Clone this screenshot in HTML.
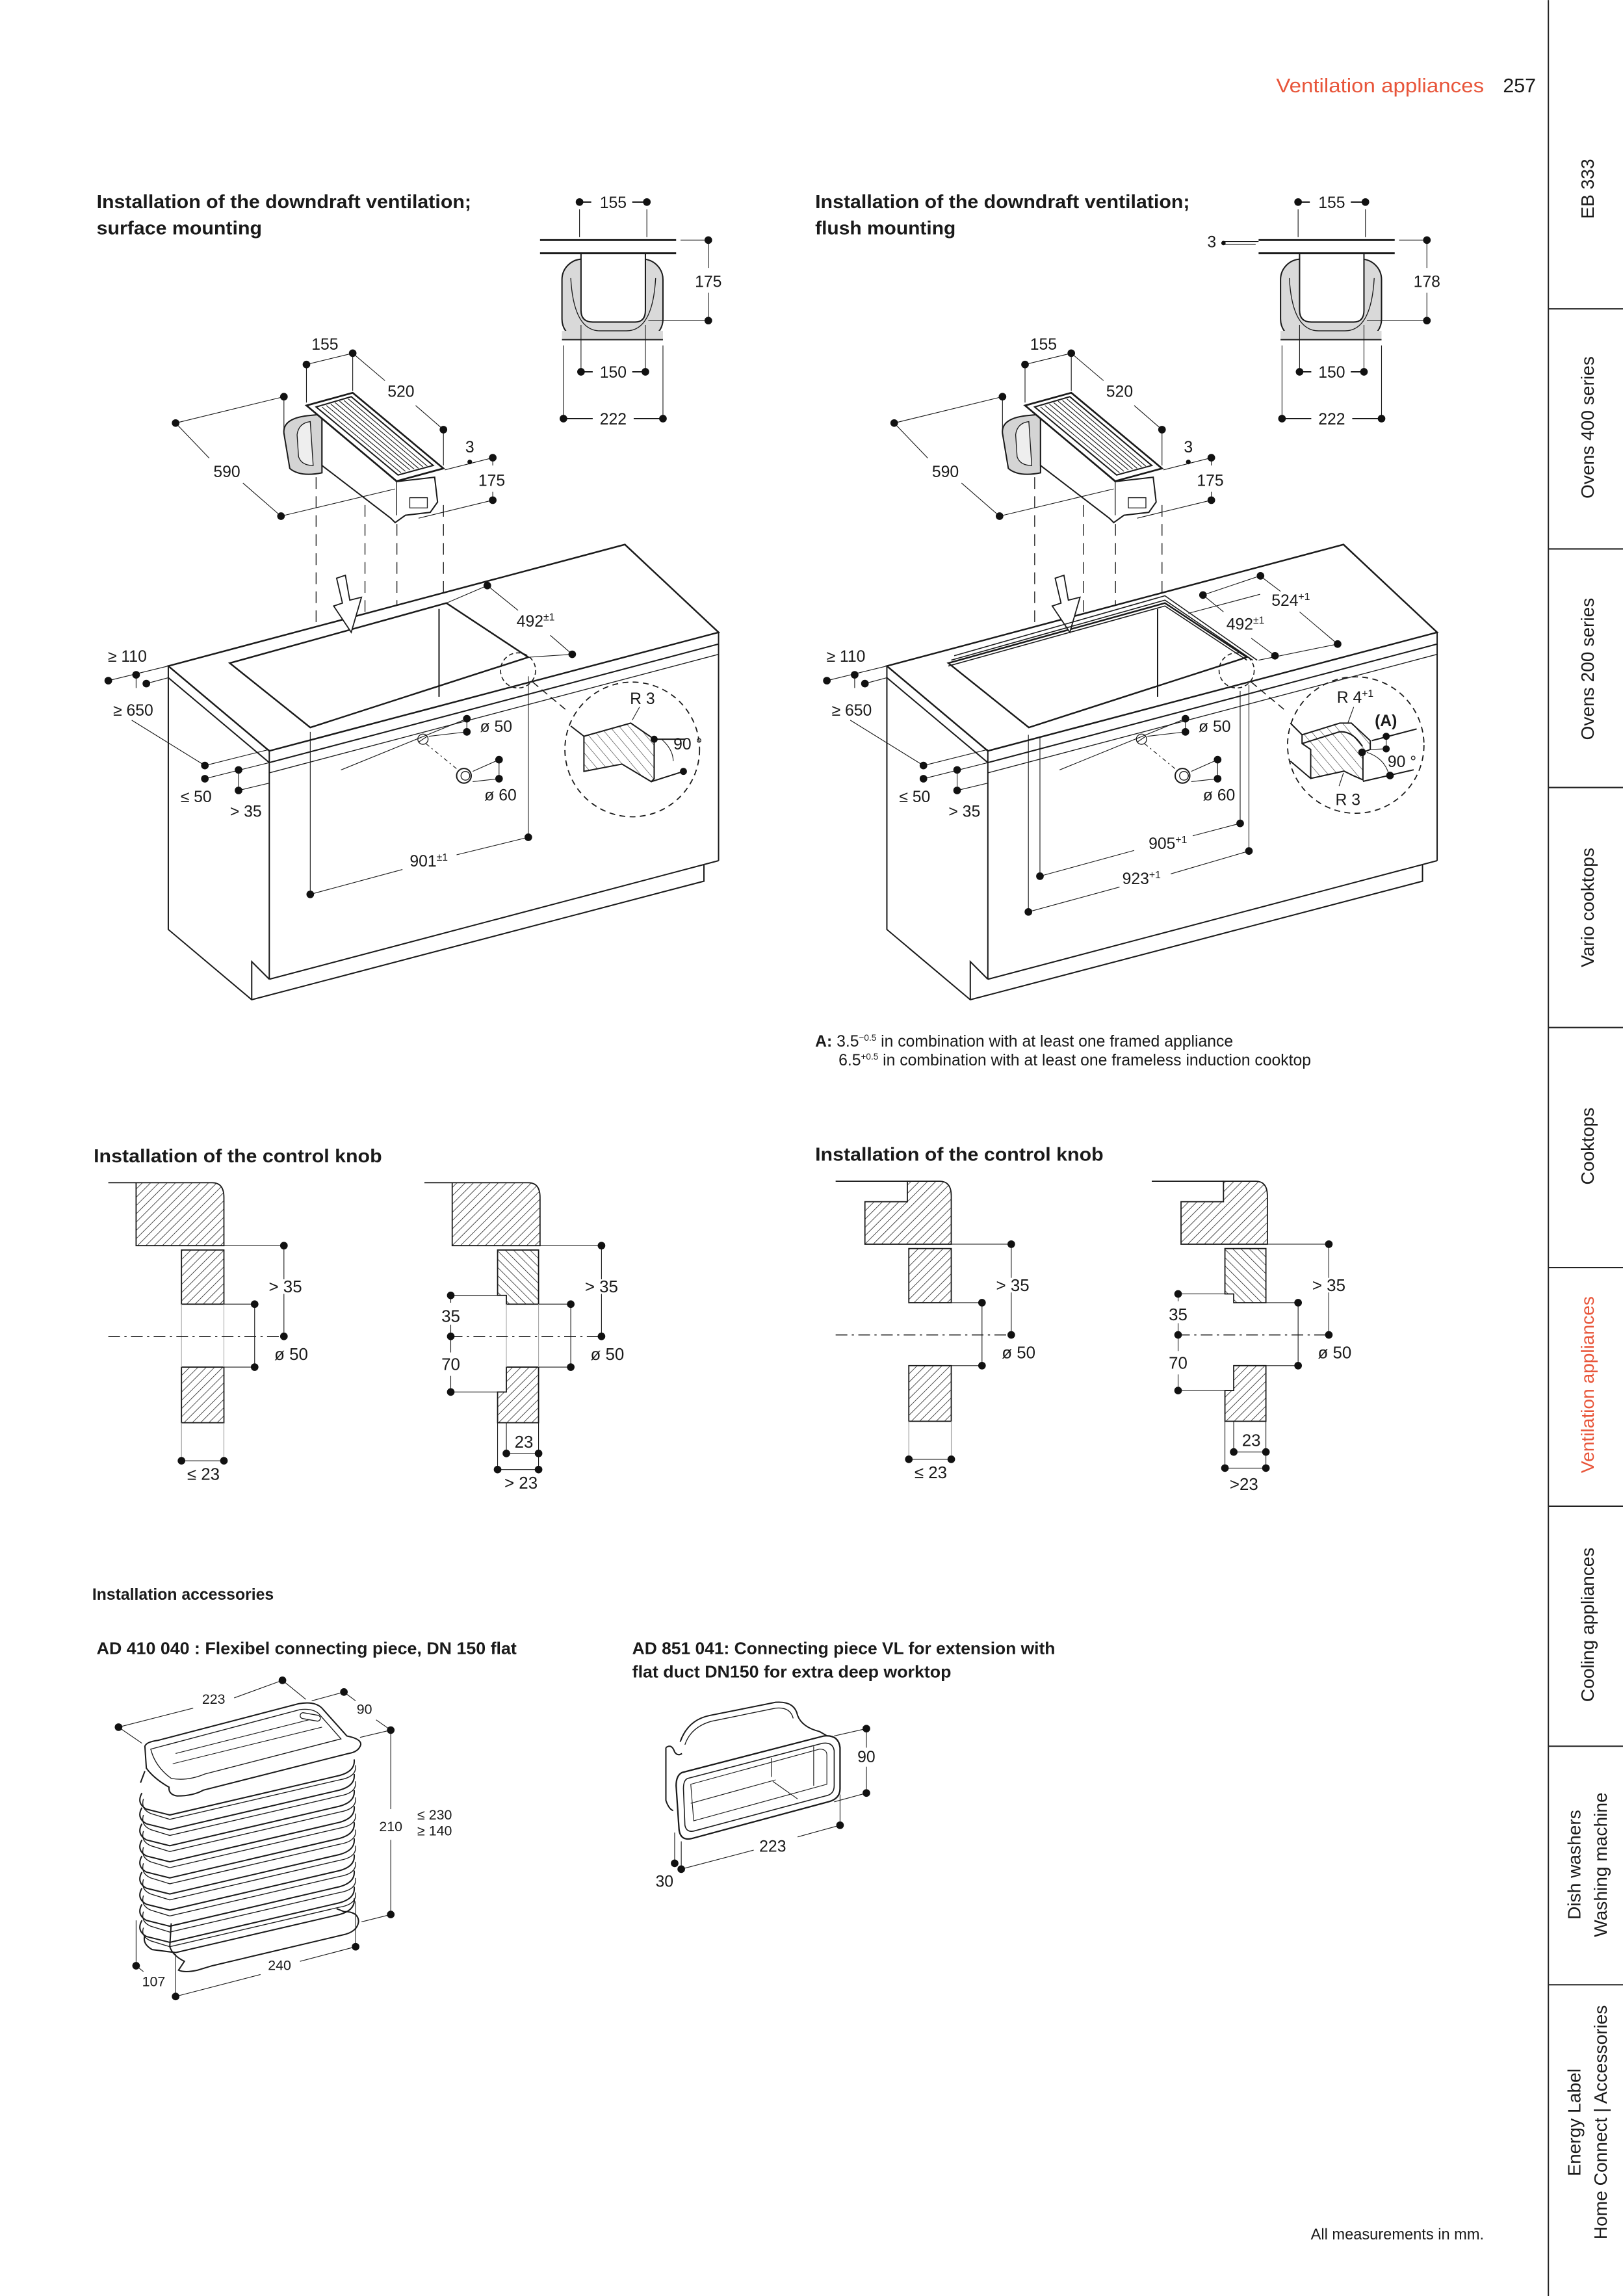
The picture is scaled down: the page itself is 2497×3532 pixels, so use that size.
<!DOCTYPE html>
<html><head><meta charset="utf-8"><style>
html,body{margin:0;padding:0;background:#fff}
svg{display:block}
text{font-family:"Liberation Sans",Arial,sans-serif;fill:#1a1a1a}
.t{font-size:12.6px;font-weight:bold}
.d{font-size:11px}
.sb{font-size:12.5px}
</style></head><body>
<svg width="2497" height="3532" viewBox="0 0 1109 1568.6" xmlns="http://www.w3.org/2000/svg">
<defs>
<pattern id="h" patternUnits="userSpaceOnUse" width="4" height="4" patternTransform="rotate(45)"><line x1="0" y1="0" x2="0" y2="4" stroke="#222" stroke-width="0.7"/></pattern>
<pattern id="h2" patternUnits="userSpaceOnUse" width="4" height="4" patternTransform="rotate(-45)"><line x1="0" y1="0" x2="0" y2="4" stroke="#222" stroke-width="0.7"/></pattern>
<pattern id="h3" patternUnits="userSpaceOnUse" width="5" height="5" patternTransform="rotate(-40)"><line x1="0" y1="0" x2="0" y2="5" stroke="#222" stroke-width="0.5"/></pattern>
<g id="cab" fill="none" stroke="#1a1a1a" stroke-width="0.9">
 <rect x="384" y="177" width="69" height="55" rx="14" fill="#d9d9d9"/>
 <rect x="384" y="226" width="69" height="6" fill="#d9d9d9" stroke="none"/>
 <line x1="384" y1="232" x2="453" y2="232"/>
 <path d="M397,173 V212 Q397,220 405,220 H434 Q441,220 441,212 V173" fill="#fff"/>
 <path d="M390,190 Q392,226 410,226 H428 Q446,226 448,190" stroke-width="0.6"/>
 <line x1="369" y1="164" x2="462" y2="164" stroke-width="1.3"/>
 <line x1="369" y1="173" x2="462" y2="173" stroke-width="1.3"/>
 <line x1="396" y1="143" x2="396" y2="162" stroke-width="0.5"/><line x1="442" y1="143" x2="442" y2="162" stroke-width="0.5"/>
 <line x1="396" y1="138" x2="404" y2="138"/><line x1="432" y1="138" x2="442" y2="138"/>
 <line x1="465" y1="164" x2="484" y2="164" stroke-width="0.5"/><line x1="443" y1="219" x2="484" y2="219" stroke-width="0.5"/>
 <line x1="484" y1="164" x2="484" y2="183" stroke-width="0.5"/><line x1="484" y1="200" x2="484" y2="219" stroke-width="0.5"/>
 <line x1="397" y1="222" x2="397" y2="254" stroke-width="0.5"/><line x1="441" y1="222" x2="441" y2="254" stroke-width="0.5"/>
 <line x1="385" y1="236" x2="385" y2="286" stroke-width="0.5"/><line x1="453" y1="236" x2="453" y2="286" stroke-width="0.5"/>
 <line x1="397" y1="254" x2="405" y2="254"/><line x1="432" y1="254" x2="441" y2="254"/>
 <line x1="385" y1="286" x2="405" y2="286"/><line x1="433" y1="286" x2="453" y2="286"/>
 <path d="M194,296 Q193,286 210,284 L220,283 L220,323 Q205,326 198,320 Z" fill="#d4d4d4"/>
 <path d="M203,297 Q204,289 212,288 L214,318 Q206,318 204,312 Z" fill="#eee" stroke-width="0.6"/>
 <path d="M210,277 L271,329 L297,326 L299,343 L294,350 L277,352 L270,357 L267,354 L220,318 L220,285 Z" fill="#fff"/>
 <polygon points="209.4,277 241,268.3 303,320 271,328.7" fill="#fff" stroke-width="1.2"/>
 <polygon points="216,278 240,271 296,318 272,324.5" fill="#fff"/>
 <g stroke-width="0.5"><line x1="220" y1="278" x2="274" y2="323"/><line x1="223" y1="277" x2="277" y2="322"/><line x1="226" y1="276" x2="280" y2="321"/><line x1="229" y1="275" x2="283" y2="320.5"/><line x1="232" y1="274" x2="286" y2="320"/><line x1="235" y1="273.5" x2="289" y2="319"/><line x1="238" y1="272.5" x2="292" y2="318.5"/></g>
 <line x1="271" y1="329" x2="271" y2="352" stroke-width="0.6"/>
 <rect x="280" y="340" width="12" height="7" stroke-width="0.6"/>
 <g stroke-width="0.5">
 <line x1="209.4" y1="249" x2="241" y2="241.3"/><line x1="209.4" y1="249" x2="209.4" y2="275"/><line x1="241" y1="241.3" x2="241" y2="267"/>
 <line x1="241" y1="241.3" x2="263" y2="260"/><line x1="284" y1="277" x2="303" y2="293.5"/><line x1="303" y1="293.5" x2="303" y2="318"/>
 <line x1="120" y1="289" x2="194" y2="271"/><line x1="194" y1="271" x2="194" y2="296"/><line x1="120" y1="289" x2="143" y2="313"/><line x1="166" y1="330" x2="192" y2="352.6"/>
 <line x1="192" y1="352.6" x2="270" y2="334"/>
 <line x1="304" y1="321" x2="336.7" y2="312.7"/><line x1="336.7" y1="312.7" x2="336.7" y2="318"/><line x1="336.7" y1="336" x2="336.7" y2="341.7"/><line x1="286" y1="354" x2="336.7" y2="341.7"/>
 </g>
 <g stroke-dasharray="8,5" stroke-width="0.6"><line x1="216" y1="326" x2="216" y2="445"/><line x1="249.4" y1="345" x2="249.4" y2="435"/><line x1="271.2" y1="358" x2="271.2" y2="480"/><line x1="303" y1="345" x2="303" y2="472"/>
 <line x1="222" y1="455" x2="262" y2="492"/><line x1="253" y1="432" x2="300" y2="472"/></g>
 <polygon points="115,455 427,372 491,432 184,513" fill="#fff" stroke-width="1.1"/>
 <polyline points="115,455 115,463 184,521 491,440 491,432"/>
 <line x1="184" y1="513" x2="184" y2="521"/>
 <polyline points="115,463 115,635 172,683 481,602 481,591"/>
 <line x1="184" y1="521" x2="184" y2="669"/><line x1="184" y1="669" x2="491" y2="588"/><line x1="491" y1="440" x2="491" y2="588"/>
 <polyline points="172,683 172,657 184,669"/>
 <line x1="184" y1="528" x2="491" y2="447" stroke-width="0.6"/>
 <polygon points="157,453 305,412 361,449 212,497" fill="#fff" stroke-width="1.1"/>
 <line x1="300" y1="416" x2="300" y2="476"/>
 <path d="M230,395 L236,393 L239,410 L247,408 L240,432 L228,414 L234,412 Z" fill="#fff" stroke-width="0.8"/>
 <circle cx="289" cy="505" r="3.5" stroke-width="0.6"/><line x1="286" y1="507" x2="292" y2="503" stroke-width="0.5"/>
 <circle cx="317" cy="530" r="5" stroke-width="0.9"/><circle cx="318" cy="530" r="3" stroke-width="0.6"/>
 <line x1="291" y1="508" x2="313" y2="526" stroke-dasharray="3,2,1,2" stroke-width="0.5"/>
 <g stroke-width="0.5"><line x1="233" y1="526" x2="319" y2="491"/><line x1="293" y1="503" x2="319" y2="500"/><line x1="319" y1="491" x2="319" y2="500"/>
 <line x1="323" y1="527" x2="341" y2="519"/><line x1="323" y1="534" x2="341" y2="532"/><line x1="341" y1="519" x2="341" y2="532"/>
 <line x1="74" y1="465" x2="115" y2="455"/><line x1="93" y1="461" x2="93" y2="470"/><line x1="100" y1="467" x2="115" y2="463"/>
 <line x1="90" y1="492" x2="140" y2="523"/><line x1="140" y1="523" x2="184" y2="512"/><line x1="140" y1="532" x2="184" y2="521"/>
 <line x1="163" y1="526" x2="163" y2="540"/><line x1="163" y1="540" x2="184" y2="535"/>
 </g>
 <circle cx="354" cy="458" r="12" stroke-dasharray="3,2" stroke-width="0.7"/>
 <line x1="364" y1="466" x2="388" y2="486" stroke-dasharray="5,3" stroke-width="0.7"/>
</g>
</defs>

<line x1="1058" y1="0" x2="1058" y2="1569" stroke="#222" stroke-width="0.9"/>
<g stroke="#222" stroke-width="0.9"><line x1="1058" y1="211" x2="1109" y2="211"/><line x1="1058" y1="375" x2="1109" y2="375"/><line x1="1058" y1="538" x2="1109" y2="538"/><line x1="1058" y1="702" x2="1109" y2="702"/><line x1="1058" y1="866" x2="1109" y2="866"/><line x1="1058" y1="1029" x2="1109" y2="1029"/><line x1="1058" y1="1193" x2="1109" y2="1193"/><line x1="1058" y1="1356" x2="1109" y2="1356"/></g>
<g class="sb" text-anchor="middle">
<text transform="translate(1089,129) rotate(-90)">EB 333</text>
<text transform="translate(1089,292) rotate(-90)">Ovens 400 series</text>
<text transform="translate(1089,457) rotate(-90)">Ovens 200 series</text>
<text transform="translate(1089,620) rotate(-90)">Vario cooktops</text>
<text transform="translate(1089,783) rotate(-90)">Cooktops</text>
<text transform="translate(1089,946) rotate(-90)" style="fill:#e8553a">Ventilation appliances</text>
<text transform="translate(1089,1110) rotate(-90)">Cooling appliances</text>
<text transform="translate(1080,1274) rotate(-90)">Dish washers</text>
<text transform="translate(1098,1274) rotate(-90)">Washing machine</text>
<text transform="translate(1080,1450) rotate(-90)">Energy Label</text>
<text transform="translate(1098,1450) rotate(-90)">Home Connect | Accessories</text>
</g>

<text x="872" y="63" textLength="142" lengthAdjust="spacingAndGlyphs" style="font-size:13.5px;fill:#e8553a">Ventilation appliances</text>
<text x="1027" y="63" style="font-size:13.5px">257</text>

<text class="t" x="66" y="142" textLength="256" lengthAdjust="spacingAndGlyphs">Installation of the downdraft ventilation;</text>
<text class="t" x="66" y="160" textLength="113" lengthAdjust="spacingAndGlyphs">surface mounting</text>
<text class="t" x="557" y="142" textLength="256" lengthAdjust="spacingAndGlyphs">Installation of the downdraft ventilation;</text>
<text class="t" x="557" y="160" textLength="96" lengthAdjust="spacingAndGlyphs">flush mounting</text>

<use href="#cab"/>
<use href="#cab" transform="translate(491,0)"/>

<g fill="#111">
<circle cx="396" cy="138" r="2.6"/><circle cx="442" cy="138" r="2.6"/><circle cx="484" cy="164" r="2.6"/><circle cx="484" cy="219" r="2.6"/>
<circle cx="397" cy="254" r="2.6"/><circle cx="441" cy="254" r="2.6"/><circle cx="385" cy="286" r="2.6"/><circle cx="453" cy="286" r="2.6"/>
<circle cx="209.4" cy="249" r="2.6"/><circle cx="241" cy="241.3" r="2.6"/><circle cx="303" cy="293.5" r="2.6"/><circle cx="120" cy="289" r="2.6"/><circle cx="194" cy="271" r="2.6"/><circle cx="192" cy="352.6" r="2.6"/>
<circle cx="321" cy="315.6" r="1.6"/><circle cx="336.7" cy="312.7" r="2.6"/><circle cx="336.7" cy="341.7" r="2.6"/>
<circle cx="74" cy="465" r="2.6"/><circle cx="93" cy="461" r="2.6"/><circle cx="100" cy="467" r="2.6"/><circle cx="140" cy="523" r="2.6"/><circle cx="140" cy="532" r="2.6"/><circle cx="163" cy="526" r="2.6"/><circle cx="163" cy="540" r="2.6"/>
<circle cx="319" cy="491" r="2.6"/><circle cx="319" cy="500" r="2.6"/><circle cx="341" cy="519" r="2.6"/><circle cx="341" cy="532" r="2.6"/>
</g>
<g fill="#111" transform="translate(491,0)">
<circle cx="396" cy="138" r="2.6"/><circle cx="442" cy="138" r="2.6"/><circle cx="484" cy="164" r="2.6"/><circle cx="484" cy="219" r="2.6"/>
<circle cx="397" cy="254" r="2.6"/><circle cx="441" cy="254" r="2.6"/><circle cx="385" cy="286" r="2.6"/><circle cx="453" cy="286" r="2.6"/>
<circle cx="209.4" cy="249" r="2.6"/><circle cx="241" cy="241.3" r="2.6"/><circle cx="303" cy="293.5" r="2.6"/><circle cx="120" cy="289" r="2.6"/><circle cx="194" cy="271" r="2.6"/><circle cx="192" cy="352.6" r="2.6"/>
<circle cx="321" cy="315.6" r="1.6"/><circle cx="336.7" cy="312.7" r="2.6"/><circle cx="336.7" cy="341.7" r="2.6"/>
<circle cx="74" cy="465" r="2.6"/><circle cx="93" cy="461" r="2.6"/><circle cx="100" cy="467" r="2.6"/><circle cx="140" cy="523" r="2.6"/><circle cx="140" cy="532" r="2.6"/><circle cx="163" cy="526" r="2.6"/><circle cx="163" cy="540" r="2.6"/>
<circle cx="319" cy="491" r="2.6"/><circle cx="319" cy="500" r="2.6"/><circle cx="341" cy="519" r="2.6"/><circle cx="341" cy="532" r="2.6"/>
</g>

<g fill="none" stroke="#1a1a1a" stroke-width="0.5">
<line x1="333" y1="400" x2="354" y2="417"/><line x1="376" y1="434" x2="391" y2="447"/><line x1="305" y1="412" x2="333" y2="400"/><line x1="361" y1="449" x2="391" y2="447"/>
<line x1="212" y1="500" x2="212" y2="611"/><line x1="361" y1="462" x2="361" y2="572"/><line x1="212" y1="611" x2="275" y2="594"/><line x1="312" y1="584" x2="361" y2="572"/>
<circle cx="432" cy="512" r="46" stroke-dasharray="4,3" stroke-width="0.8"/>
<polygon points="399,503 431,494 447,505 447,532 445,534 425,522 399,527" fill="url(#h3)" stroke-width="0.9"/>
<polyline points="390,496 399,503" stroke-width="0.9"/><line x1="447" y1="505" x2="468" y2="505" stroke-width="0.9"/><line x1="445" y1="534" x2="467" y2="527" stroke-width="0.9"/>
<line x1="432" y1="492" x2="437" y2="483"/><path d="M452,505 Q460,512 460,520"/>
</g>
<g fill="#111"><circle cx="333" cy="400" r="2.6"/><circle cx="391" cy="447" r="2.6"/><circle cx="212" cy="611" r="2.6"/><circle cx="361" cy="572" r="2.6"/><circle cx="447" cy="505" r="2.4"/><circle cx="467" cy="527" r="2.4"/></g>

<g fill="none" stroke="#1a1a1a" stroke-width="0.7">
<polyline points="648,455 796,414 852,451"/><polyline points="650,451 796,410 856,451"/><polyline points="652,448 796,407 859,451"/>
<line x1="812" y1="419" x2="861" y2="406" stroke-width="0.5"/><line x1="861" y1="393.4" x2="822" y2="406.5" stroke-width="0.5"/>
<line x1="861" y1="393.4" x2="875" y2="404" stroke-width="0.5"/><line x1="888" y1="418" x2="914" y2="440" stroke-width="0.5"/>
<line x1="822" y1="406.5" x2="836" y2="418" stroke-width="0.5"/><line x1="855" y1="436" x2="871.2" y2="448" stroke-width="0.5"/>
<line x1="860" y1="451" x2="914" y2="440" stroke-width="0.5"/>
<line x1="847.4" y1="472" x2="847.4" y2="562.5" stroke-width="0.5"/><line x1="853.4" y1="468" x2="853.4" y2="581.4" stroke-width="0.5"/>
<line x1="710.6" y1="503" x2="710.6" y2="598.6" stroke-width="0.5"/><line x1="702.7" y1="502" x2="702.7" y2="623" stroke-width="0.5"/>
<line x1="710.6" y1="598.6" x2="775" y2="581" stroke-width="0.5"/><line x1="815" y1="571" x2="847.4" y2="562.5" stroke-width="0.5"/>
<line x1="702.7" y1="623" x2="765" y2="606" stroke-width="0.5"/><line x1="800" y1="597" x2="853.4" y2="581.4" stroke-width="0.5"/>
<circle cx="926.4" cy="509" r="46.6" stroke-dasharray="4,3" stroke-width="0.8"/>
<polygon points="889.7,502 915.5,494 923.4,494 936.3,506 936.3,512 931.3,514 931.3,532.8 924.4,529.8 918.4,526.8 895.6,531.8 895.6,512 889.7,508" fill="url(#h3)" stroke-width="0.9"/>
<path d="M889.7,508 L915,500 Q924,499 931,510" stroke-width="0.9"/>
<line x1="881.7" y1="494" x2="889.7" y2="502" stroke-width="0.9"/><line x1="881.7" y1="520" x2="895.6" y2="531.8" stroke-width="0.9"/>
<line x1="937.3" y1="506" x2="968" y2="498" stroke-width="0.9"/><line x1="931.3" y1="533.8" x2="966" y2="525.9" stroke-width="0.9"/>
<line x1="947.2" y1="503" x2="947.2" y2="511.6" stroke-width="0.5"/><line x1="936" y1="512" x2="947.2" y2="511.6" stroke-width="0.5"/>
<line x1="921" y1="494" x2="925" y2="483" stroke-width="0.5"/><line x1="918" y1="528" x2="915" y2="537" stroke-width="0.5"/><path d="M934,514 Q946,518 949,529" stroke-width="0.5"/>
<line x1="836" y1="165" x2="860" y2="165" stroke-width="0.5"/><line x1="836" y1="167" x2="858" y2="167" stroke-width="0.5"/>
</g>
<g fill="#111"><circle cx="861.3" cy="393.4" r="2.6"/><circle cx="914" cy="440" r="2.6"/><circle cx="822" cy="406.5" r="2.6"/><circle cx="871.2" cy="448" r="2.6"/>
<circle cx="847.4" cy="562.5" r="2.6"/><circle cx="710.6" cy="598.6" r="2.6"/><circle cx="853.4" cy="581.4" r="2.6"/><circle cx="702.7" cy="623" r="2.6"/>
<circle cx="947.2" cy="503" r="2.4"/><circle cx="947.2" cy="511.6" r="2.4"/><circle cx="930.7" cy="514" r="2.6"/><circle cx="949.8" cy="529.8" r="2.6"/><circle cx="836" cy="166" r="1.5"/></g>

<g class="d" text-anchor="middle">
<text x="419" y="142">155</text><text x="484" y="196">175</text><text x="419" y="258">150</text><text x="419" y="290">222</text>
<text x="222" y="239">155</text><text x="274" y="271">520</text><text x="155" y="326">590</text><text x="321" y="309">3</text><text x="336" y="332">175</text>
<text x="87" y="452">≥ 110</text><text x="91" y="489">≥ 650</text><text x="134" y="548">≤ 50</text><text x="168" y="558">&gt; 35</text>
<text x="366" y="428">492<tspan dy="-4" style="font-size:7px">±1</tspan></text>
<text x="339" y="500">ø 50</text><text x="342" y="547">ø 60</text>
<text x="293" y="592">901<tspan dy="-4" style="font-size:7px">±1</tspan></text>
<text x="439" y="481">R 3</text><text x="470" y="512">90 °</text>
<text x="910" y="142">155</text><text x="975" y="196">178</text><text x="910" y="258">150</text><text x="910" y="290">222</text><text x="828" y="169">3</text>
<text x="713" y="239">155</text><text x="765" y="271">520</text><text x="646" y="326">590</text><text x="812" y="309">3</text><text x="827" y="332">175</text>
<text x="578" y="452">≥ 110</text><text x="582" y="489">≥ 650</text><text x="625" y="548">≤ 50</text><text x="659" y="558">&gt; 35</text>
<text x="882" y="414">524<tspan dy="-4" style="font-size:7px">+1</tspan></text>
<text x="851" y="430">492<tspan dy="-4" style="font-size:7px">±1</tspan></text>
<text x="830" y="500">ø 50</text><text x="833" y="547">ø 60</text>
<text x="798" y="580">905<tspan dy="-4" style="font-size:7px">+1</tspan></text>
<text x="780" y="604">923<tspan dy="-4" style="font-size:7px">+1</tspan></text>
<text x="926" y="480">R 4<tspan dy="-4" style="font-size:7px">+1</tspan></text>
<text x="947" y="496" style="font-weight:bold">(A)</text><text x="958" y="524">90 °</text><text x="921" y="550">R 3</text>
</g>
<text x="557" y="715" class="d"><tspan style="font-weight:bold">A:</tspan>  3.5<tspan dy="-4" style="font-size:6px">−0.5</tspan><tspan dy="4"> in combination with at least one framed appliance</tspan></text>
<text x="573" y="728" class="d">6.5<tspan dy="-4" style="font-size:6px">+0.5</tspan><tspan dy="4"> in combination with at least one frameless induction cooktop</tspan></text>

<text class="t" x="64" y="794" textLength="197" lengthAdjust="spacingAndGlyphs">Installation of the control knob</text>
<text class="t" x="557" y="793" textLength="197" lengthAdjust="spacingAndGlyphs">Installation of the control knob</text>
<g>
<g fill="none" stroke="#1a1a1a" stroke-width="0.8">
<line x1="74" y1="808" x2="93" y2="808"/>
<path d="M93,808 H145 Q153,808 153,818 V851 H93 Z" fill="url(#h)"/>
<rect x="124" y="854" width="29" height="37" fill="url(#h)"/>
<rect x="124" y="934" width="29" height="38" fill="url(#h)"/>
<g stroke-width="0.5"><line x1="153" y1="851" x2="194" y2="851"/><line x1="194" y1="851" x2="194" y2="874"/><line x1="194" y1="884" x2="194" y2="913"/>
<line x1="153" y1="891" x2="174" y2="891"/><line x1="153" y1="934" x2="174" y2="934"/><line x1="174" y1="891" x2="174" y2="934"/>
<line x1="124" y1="891" x2="124" y2="934" stroke="#aaa"/><line x1="153" y1="891" x2="153" y2="934" stroke="#aaa"/>
<line x1="124" y1="972" x2="124" y2="998" stroke="#999"/><line x1="153" y1="972" x2="153" y2="998" stroke="#999"/><line x1="124" y1="998" x2="153" y2="998"/></g>
<line x1="74" y1="913" x2="194" y2="913" stroke-dasharray="8,3,1.5,3" stroke-width="0.7"/>
</g>
<g fill="#111"><circle cx="194" cy="851" r="2.6"/><circle cx="194" cy="913" r="2.6"/><circle cx="174" cy="891" r="2.6"/><circle cx="174" cy="934" r="2.6"/><circle cx="124" cy="998" r="2.6"/><circle cx="153" cy="998" r="2.6"/></g>
</g>
<g>
<g fill="none" stroke="#1a1a1a" stroke-width="0.8">
<line x1="290" y1="808" x2="309" y2="808"/>
<path d="M309,808 H361 Q369,808 369,818 V851 H309 Z" fill="url(#h)"/>
<path d="M340,854 H368 V891 H346 V885 H340 Z" fill="url(#h2)"/>
<path d="M346,934 H368 V972 H340 V951 H346 Z" fill="url(#h)"/>
<g stroke-width="0.5"><line x1="369" y1="851" x2="411" y2="851"/><line x1="411" y1="851" x2="411" y2="874"/><line x1="411" y1="884" x2="411" y2="913"/>
<line x1="368" y1="891" x2="390" y2="891"/><line x1="368" y1="934" x2="390" y2="934"/><line x1="390" y1="891" x2="390" y2="934"/>
<line x1="308" y1="885" x2="340" y2="885"/><line x1="308" y1="951" x2="340" y2="951"/><line x1="308" y1="885" x2="308" y2="890"/><line x1="308" y1="905" x2="308" y2="924"/><line x1="308" y1="940" x2="308" y2="951"/>
<line x1="346" y1="891" x2="346" y2="934" stroke="#aaa"/><line x1="368" y1="891" x2="368" y2="934" stroke="#aaa"/>
<line x1="346" y1="972" x2="346" y2="993"/><line x1="340" y1="972" x2="340" y2="1004"/><line x1="368" y1="972" x2="368" y2="1004"/><line x1="346" y1="993" x2="368" y2="993"/><line x1="340" y1="1004" x2="368" y2="1004"/></g>
<line x1="308" y1="913" x2="411" y2="913" stroke-dasharray="8,3,1.5,3" stroke-width="0.7"/>
</g>
<g fill="#111"><circle cx="411" cy="851" r="2.6"/><circle cx="411" cy="913" r="2.6"/><circle cx="390" cy="891" r="2.6"/><circle cx="390" cy="934" r="2.6"/><circle cx="308" cy="885" r="2.6"/><circle cx="308" cy="913" r="2.6"/><circle cx="308" cy="951" r="2.6"/>
<circle cx="346" cy="993" r="2.6"/><circle cx="368" cy="993" r="2.6"/><circle cx="340" cy="1004" r="2.6"/><circle cx="368" cy="1004" r="2.6"/></g>
</g>
<g transform="translate(497,-1)">
<g fill="none" stroke="#1a1a1a" stroke-width="0.8">
<line x1="74" y1="808" x2="123" y2="808"/>
<path d="M123,808 H145 Q153,808 153,818 V851 H94 V822 H123 Z" fill="url(#h)"/>
<rect x="124" y="854" width="29" height="37" fill="url(#h)"/>
<rect x="124" y="934" width="29" height="38" fill="url(#h)"/>
<g stroke-width="0.5"><line x1="153" y1="851" x2="194" y2="851"/><line x1="194" y1="851" x2="194" y2="874"/><line x1="194" y1="884" x2="194" y2="913"/>
<line x1="153" y1="891" x2="174" y2="891"/><line x1="153" y1="934" x2="174" y2="934"/><line x1="174" y1="891" x2="174" y2="934"/>
<line x1="124" y1="972" x2="124" y2="998" stroke="#999"/><line x1="153" y1="972" x2="153" y2="998" stroke="#999"/><line x1="124" y1="998" x2="153" y2="998"/></g>
<line x1="74" y1="913" x2="194" y2="913" stroke-dasharray="8,3,1.5,3" stroke-width="0.7"/>
</g>
<g fill="#111"><circle cx="194" cy="851" r="2.6"/><circle cx="194" cy="913" r="2.6"/><circle cx="174" cy="891" r="2.6"/><circle cx="174" cy="934" r="2.6"/><circle cx="124" cy="998" r="2.6"/><circle cx="153" cy="998" r="2.6"/></g>
</g>
<g transform="translate(497,-1)">
<g fill="none" stroke="#1a1a1a" stroke-width="0.8">
<line x1="290" y1="808" x2="339" y2="808"/>
<path d="M339,808 H361 Q369,808 369,818 V851 H310 V822 H339 Z" fill="url(#h)"/>
<path d="M340,854 H368 V891 H346 V885 H340 Z" fill="url(#h2)"/>
<path d="M346,934 H368 V972 H340 V951 H346 Z" fill="url(#h)"/>
<g stroke-width="0.5"><line x1="369" y1="851" x2="411" y2="851"/><line x1="411" y1="851" x2="411" y2="874"/><line x1="411" y1="884" x2="411" y2="913"/>
<line x1="368" y1="891" x2="390" y2="891"/><line x1="368" y1="934" x2="390" y2="934"/><line x1="390" y1="891" x2="390" y2="934"/>
<line x1="308" y1="885" x2="340" y2="885"/><line x1="308" y1="951" x2="340" y2="951"/><line x1="308" y1="885" x2="308" y2="890"/><line x1="308" y1="905" x2="308" y2="924"/><line x1="308" y1="940" x2="308" y2="951"/>
<line x1="346" y1="972" x2="346" y2="993"/><line x1="340" y1="972" x2="340" y2="1004"/><line x1="368" y1="972" x2="368" y2="1004"/><line x1="346" y1="993" x2="368" y2="993"/><line x1="340" y1="1004" x2="368" y2="1004"/></g>
<line x1="308" y1="913" x2="411" y2="913" stroke-dasharray="8,3,1.5,3" stroke-width="0.7"/>
</g>
<g fill="#111"><circle cx="411" cy="851" r="2.6"/><circle cx="411" cy="913" r="2.6"/><circle cx="390" cy="891" r="2.6"/><circle cx="390" cy="934" r="2.6"/><circle cx="308" cy="885" r="2.6"/><circle cx="308" cy="913" r="2.6"/><circle cx="308" cy="951" r="2.6"/>
<circle cx="346" cy="993" r="2.6"/><circle cx="368" cy="993" r="2.6"/><circle cx="340" cy="1004" r="2.6"/><circle cx="368" cy="1004" r="2.6"/></g>
</g>
<g class="d" text-anchor="middle" style="font-size:11.5px">
<text x="195" y="883">&gt; 35</text><text x="199" y="929">ø 50</text><text x="139" y="1011">≤ 23</text>
<text x="411" y="883">&gt; 35</text><text x="415" y="929">ø 50</text><text x="308" y="903">35</text><text x="308" y="936">70</text><text x="358" y="989">23</text><text x="356" y="1017">&gt; 23</text>
<text x="692" y="882">&gt; 35</text><text x="696" y="928">ø 50</text><text x="636" y="1010">≤ 23</text>
<text x="908" y="882">&gt; 35</text><text x="912" y="928">ø 50</text><text x="805" y="902">35</text><text x="805" y="935">70</text><text x="855" y="988">23</text><text x="850" y="1018">&gt;23</text>
</g>

<text x="63" y="1093" style="font-size:11px;font-weight:bold">Installation accessories</text>
<text class="t" x="66" y="1130" style="font-size:11.5px" textLength="287" lengthAdjust="spacingAndGlyphs">AD 410 040 : Flexibel connecting piece, DN 150 flat</text>
<text class="t" x="432" y="1130" style="font-size:11.5px" textLength="289" lengthAdjust="spacingAndGlyphs">AD 851 041: Connecting piece VL for extension with</text>
<text class="t" x="432" y="1146" style="font-size:11.5px" textLength="218" lengthAdjust="spacingAndGlyphs">flat duct DN150 for extra deep worktop</text>

<g fill="none" stroke="#1a1a1a" stroke-width="0.9">
<path d="M117,1314 L116,1330 Q118,1336 126,1340 L122,1346 Q126,1348 135,1346 L145,1343 L234,1322 Q244,1320 245,1313 Q245,1306 235,1306 L230,1304"/>
<path d="M99,1210 L96,1218"/>
<path d="M97,1225 Q93,1232 100,1236 L116,1240 L232,1213 Q243,1210 242,1202"/>
<path d="M98,1229 Q96,1236 103,1239 L116,1243 L232,1216 Q244,1214 243,1206" stroke-width="0.6"/>
<path d="M97,1235 Q93,1242 100,1246 L116,1250 L232,1223 Q243,1220 242,1212"/><path d="M97,1246 Q93,1253 100,1257 L116,1261 L232,1234 Q243,1231 242,1223"/>
<path d="M97,1257 Q93,1264 100,1268 L116,1272 L232,1245 Q243,1242 242,1234"/><path d="M97,1268 Q93,1275 100,1279 L116,1283 L232,1256 Q243,1253 242,1245"/>
<path d="M97,1279 Q93,1286 100,1290 L116,1294 L232,1267 Q243,1264 242,1256"/><path d="M97,1290 Q93,1297 100,1301 L116,1305 L232,1278 Q243,1275 242,1267"/>
<path d="M97,1301 Q93,1308 100,1312 L116,1316 L232,1289 Q243,1286 242,1278"/><path d="M97,1312 Q93,1319 100,1323 L116,1327 L232,1300 Q243,1297 242,1289"/>
<path d="M99,1322 Q97,1328 104,1332 L120,1334 L232,1308 Q243,1305 242,1297"/>
</g>
<g fill="none" stroke="#1a1a1a" stroke-width="0.6">
<path d="M98,1240 Q96,1247 103,1250 L116,1254 L232,1227 Q244,1225 243,1217"/><path d="M98,1251 Q96,1258 103,1261 L116,1265 L232,1238 Q244,1236 243,1228"/>
<path d="M98,1262 Q96,1269 103,1272 L116,1276 L232,1249 Q244,1247 243,1239"/><path d="M98,1273 Q96,1280 103,1283 L116,1287 L232,1260 Q244,1258 243,1250"/>
<path d="M98,1284 Q96,1291 103,1294 L116,1298 L232,1271 Q244,1269 243,1261"/><path d="M98,1295 Q96,1302 103,1305 L116,1309 L232,1282 Q244,1280 243,1272"/>
<path d="M98,1306 Q96,1313 103,1316 L116,1320 L232,1293 Q244,1291 243,1283"/><path d="M98,1317 Q96,1323 103,1326 L116,1330 L232,1303 Q244,1301 243,1293"/>
</g>
<g fill="#fff" stroke="#1a1a1a" stroke-width="0.9">
<path d="M99,1193 Q100,1190 108,1189 L204,1164 Q215,1162 220,1167 L237,1186 Q247,1188 246.5,1192 Q245,1197 238,1198 L139,1223 Q132,1227 121,1227 Q115,1226 115.5,1221 Q105,1215 100,1208 Z"/>
<path d="M103,1195 L205,1168 Q214,1167 218,1171 L233,1188 L140,1212 Q128,1217 117,1215 Q106,1207 103,1195 Z" stroke-width="0.6"/>
<path d="M118,1205 L220,1180 M120,1198 L215,1174" stroke-width="0.5" fill="none"/>
<rect x="205" y="1171" width="14" height="4" rx="2" stroke-width="0.6" transform="rotate(10 212 1173)"/>
</g>
<g fill="none" stroke="#1a1a1a" stroke-width="0.5">
<line x1="81" y1="1180" x2="132" y2="1167"/><line x1="160" y1="1160" x2="193" y2="1148"/><line x1="81" y1="1180" x2="97" y2="1191"/>
<line x1="193" y1="1148" x2="209" y2="1161"/><line x1="213" y1="1162" x2="235" y2="1156"/><line x1="235" y1="1156" x2="243" y2="1162"/><line x1="257" y1="1175" x2="267" y2="1182"/>
<line x1="246" y1="1187" x2="267" y2="1182"/><line x1="267" y1="1182" x2="267" y2="1236"/><line x1="267" y1="1257" x2="267" y2="1308"/><line x1="247" y1="1313" x2="267" y2="1308"/>
<line x1="243" y1="1299" x2="243" y2="1330"/><line x1="205" y1="1340" x2="243" y2="1330"/><line x1="120" y1="1364" x2="178" y2="1349"/>
<line x1="93" y1="1312" x2="93" y2="1343"/><line x1="120" y1="1335" x2="120" y2="1364"/><line x1="93" y1="1343" x2="98" y2="1347"/>
</g>
<g fill="#111"><circle cx="81" cy="1180" r="2.6"/><circle cx="193" cy="1148" r="2.6"/><circle cx="235" cy="1156" r="2.6"/><circle cx="267" cy="1182" r="2.6"/><circle cx="267" cy="1308" r="2.6"/><circle cx="243" cy="1330" r="2.6"/><circle cx="93" cy="1343" r="2.6"/><circle cx="120" cy="1364" r="2.6"/></g>
<g style="font-size:9.5px" text-anchor="middle">
<text x="146" y="1164">223</text><text x="249" y="1171">90</text><text x="267" y="1251">210</text><text x="297" y="1243">≤ 230</text><text x="297" y="1254">≥ 140</text><text x="191" y="1346">240</text><text x="105" y="1357">107</text>
</g>

<g fill="none" stroke="#1a1a1a" stroke-width="0.9">
<path d="M464.8,1190 Q470,1175 485,1172 L530,1163 Q543,1162 545,1172 Q548,1180 560,1183 L567,1187"/>
<path d="M468,1192 Q472,1180 486,1176 L530,1167 Q540,1166 542,1174" stroke-width="0.6"/>
<path d="M455,1194 L455,1230 Q457,1236 460,1237"/><path d="M455,1194 Q459,1191 461,1197 Q463,1200 466,1198"/>
<path d="M466,1211 L563,1186 Q573,1185 574,1194 L574,1222 Q574,1229 566,1231 L473,1256 Q465,1258 464,1250 L462,1220 Q462,1213 466,1211 Z" fill="#fff" stroke-width="1"/>
<path d="M470,1215 L562,1191 Q569,1190 570,1196 L570,1220 Q570,1226 564,1227 L474,1251 Q469,1252 468,1247 L467,1222 Q467,1216 470,1215 Z" stroke-width="0.7"/>
<path d="M472,1219 L560,1195 Q565,1195 565,1199 L565,1219 L474,1244 Z" stroke-width="0.5"/>
<line x1="472" y1="1232" x2="530" y2="1216" stroke-width="0.5"/><line x1="527" y1="1201" x2="527" y2="1214" stroke-width="0.5"/><line x1="528" y1="1217" x2="545" y2="1229" stroke-width="0.5"/><line x1="556" y1="1193" x2="556" y2="1220" stroke-width="0.5"/>
<g stroke-width="0.5"><line x1="570" y1="1186" x2="592" y2="1181"/><line x1="592" y1="1181" x2="592" y2="1194"/><line x1="592" y1="1207" x2="592" y2="1225"/><line x1="570" y1="1231" x2="592" y2="1225"/>
<line x1="574" y1="1226" x2="574" y2="1247"/><line x1="545" y1="1255" x2="574" y2="1247"/><line x1="465.5" y1="1277" x2="515" y2="1264"/>
<line x1="461" y1="1252" x2="461" y2="1273"/><line x1="465.5" y1="1258" x2="465.5" y2="1277"/></g>
</g>
<g fill="#111"><circle cx="592" cy="1181" r="2.6"/><circle cx="592" cy="1225" r="2.6"/><circle cx="574" cy="1247" r="2.6"/><circle cx="461" cy="1273" r="2.6"/><circle cx="465.5" cy="1277" r="2.6"/></g>
<g class="d" text-anchor="middle"><text x="592" y="1204">90</text><text x="528" y="1265">223</text><text x="454" y="1289">30</text></g>

<text x="1014" y="1530" text-anchor="end" style="font-size:10.5px">All measurements in mm.</text>
</svg>
</body></html>
